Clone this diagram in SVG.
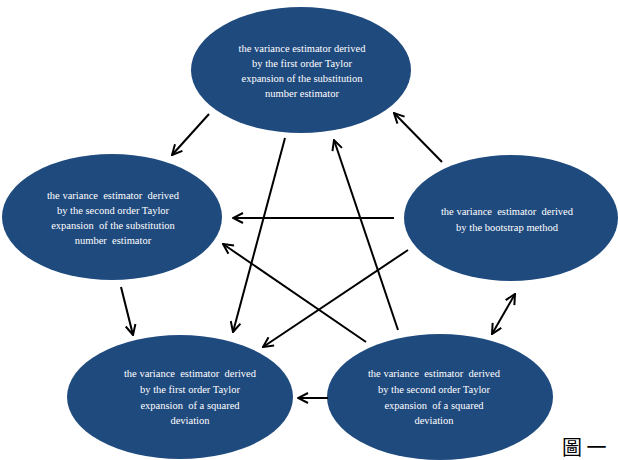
<svg xmlns="http://www.w3.org/2000/svg" width="618" height="460" viewBox="0 0 618 460">
<style>
.node ellipse{fill:#1f4a7e;}
.node text{fill:#ffffff;font-family:"Liberation Serif","Times New Roman",serif;font-size:10.5px;text-anchor:middle;white-space:pre;}
.conn line{stroke:#000;stroke-width:2;fill:none;marker-end:url(#arr);}
.fig{font-family:"Noto Sans CJK TC","Noto Sans CJK SC",serif;font-size:20px;fill:#000;}
</style>
<defs>
<marker id="arr" viewBox="0 0 12 12" refX="11" refY="6" markerWidth="12" markerHeight="12" markerUnits="userSpaceOnUse" orient="auto-start-reverse">
<path d="M1,1 L11,6 L1,11" fill="none" stroke="#000" stroke-width="2"/>
</marker>
</defs>
<rect width="618" height="460" fill="#fff"/>
<g id="n-top" class="node">
<ellipse cx="301" cy="70" rx="110" ry="63"/>
<text x="302" y="52">the variance estimator derived</text>
<text x="302" y="67">by the first order Taylor</text>
<text x="302" y="82">expansion of the substitution</text>
<text x="302" y="97">number estimator</text>
</g>
<g id="n-left" class="node">
<ellipse cx="112" cy="217" rx="110" ry="63"/>
<text x="113" y="199">the variance  estimator  derived</text>
<text x="113" y="214">by the second order Taylor</text>
<text x="113" y="229">expansion  of the substitution</text>
<text x="113" y="244">number  estimator</text>
</g>
<g id="n-right" class="node">
<ellipse cx="511" cy="218" rx="107" ry="63"/>
<text x="507" y="215">the variance  estimator  derived</text>
<text x="507" y="231">by the bootstrap method</text>
</g>
<g id="n-bl" class="node">
<ellipse cx="180" cy="397" rx="113" ry="62"/>
<text x="190" y="377">the variance  estimator  derived</text>
<text x="190" y="393">by the first order Taylor</text>
<text x="190" y="409">expansion  of a squared</text>
<text x="190" y="424">deviation</text>
</g>
<g id="n-br" class="node">
<ellipse cx="440" cy="397" rx="113" ry="63"/>
<text x="434" y="377">the variance  estimator  derived</text>
<text x="434" y="393">by the second order Taylor</text>
<text x="434" y="409">expansion  of a squared</text>
<text x="434" y="424">deviation</text>
</g>
<g id="connectors" class="conn">
<line x1="209" y1="114" x2="172" y2="155"/>
<line x1="442" y1="162" x2="394" y2="113"/>
<line x1="285" y1="138" x2="233" y2="332"/>
<line x1="398" y1="330" x2="334" y2="140"/>
<line x1="394" y1="218" x2="233" y2="218"/>
<line x1="366" y1="342" x2="223" y2="244"/>
<line x1="408" y1="250" x2="263" y2="347"/>
<line x1="121" y1="287" x2="133" y2="335"/>
<line x1="515" y1="294" x2="492" y2="334" style="marker-start:url(#arr)"/>
<line x1="328" y1="398" x2="298" y2="398"/>
</g>
<text class="fig" x="562" y="455">圖 一</text>
</svg>
